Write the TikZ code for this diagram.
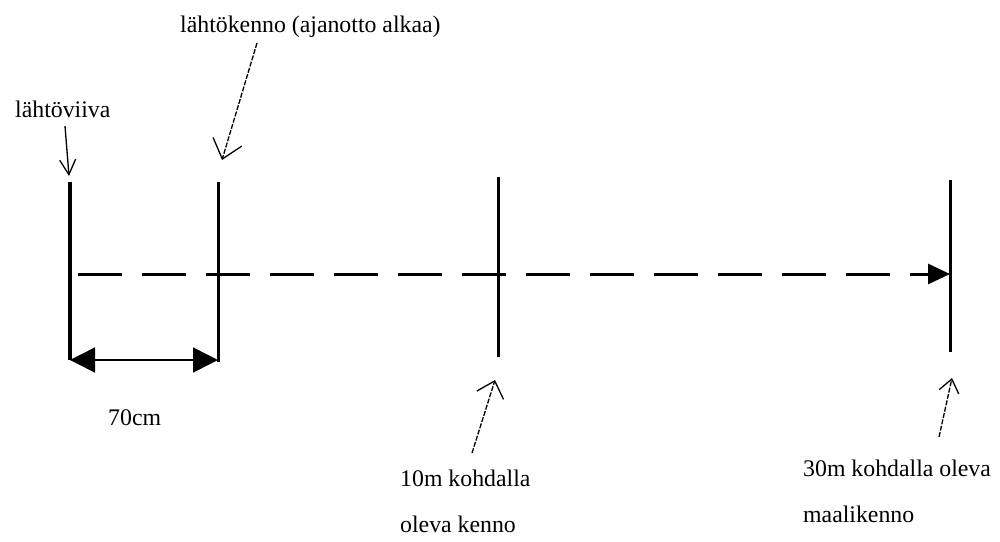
\documentclass[tikz,border=0pt]{standalone}
\usepackage{fontspec}
\setmainfont{Liberation Serif}
\usetikzlibrary{arrows.meta}
\begin{document}
\begin{tikzpicture}[x=1pt,y=-1pt,
  lbl/.style={font=\fontsize{23.8}{46}\selectfont, inner sep=0pt, anchor=base west, align=left},
  post/.style={line width=3pt},
  pointer/.style={line width=1.3pt},
  dashptr/.style={pointer, dash pattern=on 5pt off 1.5pt}]
\useasboundingbox[fill=white] (0,0) rectangle (1000,541);
% posts
\coordinate (p1t) at (70,182); \coordinate (p1b) at (70,360);
\coordinate (p2t) at (218,182); \coordinate (p2b) at (218,362);
\coordinate (p3t) at (498,177); \coordinate (p3b) at (498,357);
\coordinate (p4t) at (950,180); \coordinate (p4b) at (950,352);
\draw[line width=4pt] (p1t) -- (p1b);
\draw[post] (p2t) -- (p2b);
\draw[post] (p3t) -- (p3b);
\draw[post] (p4t) -- (p4b);
% main dashed line
\coordinate (ds) at (78,274); \coordinate (de) at (950,274);
\draw[line width=3pt, dash pattern=on 44pt off 20pt, -{Triangle[length=22pt,width=20pt]}] (ds) -- (de);
% 70cm dimension
\draw[line width=1.5pt, {Triangle[length=25pt,width=25pt]}-{Triangle[length=25pt,width=25pt]}] (p1b) -- (p2b |- p1b);
\node[lbl] (cm) at (108,425) {70cm};
% labels
\node[lbl] (l1) at (15,117) {lähtöviiva};
\node[lbl] (l2) at (180,32) {lähtökenno (ajanotto alkaa)};
\node[lbl] (l3) at (400,532) {10m kohdalla\\oleva kenno};
\node[lbl] (l4) at (803,522) {30m kohdalla oleva\\maalikenno};
% pointers
\coordinate (a1s) at (65,126); \coordinate (a1e) at (69,176);
\draw[pointer, -{Straight Barb[length=15pt,width=16pt]}] (a1s) -- (a1e);
\coordinate (a2s) at (257,43); \coordinate (a2e) at (222,160);
\draw[dashptr, -{Straight Barb[length=18pt,width=30pt]}] (a2s) -- (a2e);
\coordinate (a3s) at (472,453); \coordinate (a3e) at (495,380);
\draw[dashptr, -{Straight Barb[length=15pt,width=28pt]}] (a3s) -- (a3e);
\coordinate (a4s) at (939,437); \coordinate (a4e) at (952,378);
\draw[dashptr, -{Straight Barb[length=13pt,width=20pt]}] (a4s) -- (a4e);
\end{tikzpicture}
\end{document}
